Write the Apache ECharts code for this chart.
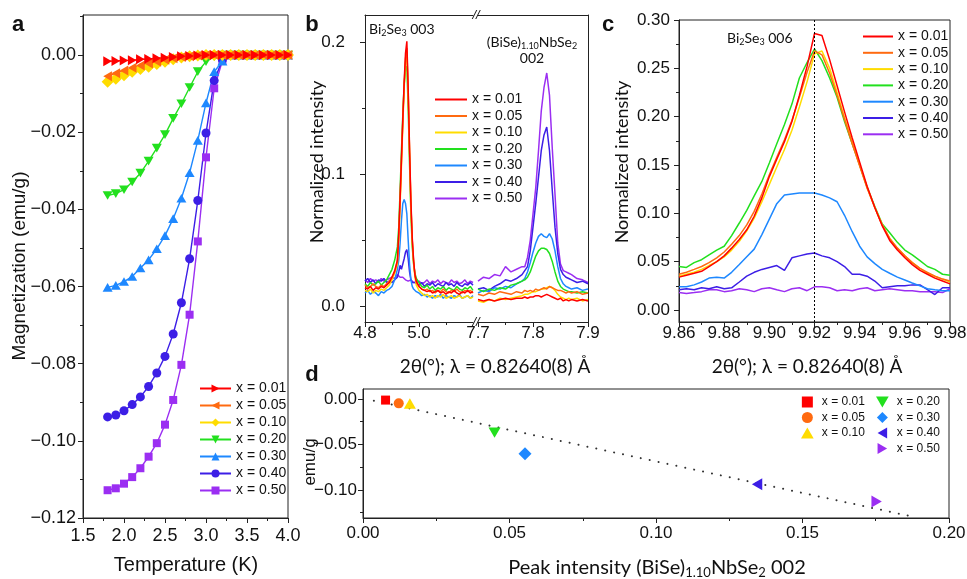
<!DOCTYPE html>
<html>
<head>
<meta charset="utf-8">
<title>Magnetization and diffraction of (BiSe)1.10NbSe2 / Bi2Se3</title>
<script src="https://cdn.jsdelivr.net/npm/echarts@6/dist/echarts.min.js"></script>
<style>
  html, body { margin: 0; padding: 0; background: #fff; }
  #chart { width: 967px; height: 579px; }
</style>
</head>
<body>
<div id="chart"></div>
<script>
// Samples (same order in every panel)
var samples = ['x = 0.01', 'x = 0.05', 'x = 0.10', 'x = 0.20', 'x = 0.30', 'x = 0.40', 'x = 0.50'];
var colors = ['#ff0000', '#ff6a10', '#ffdc00', '#22e01e', '#1e88ff', '#3c1ee6', '#9b2ef2'];

// Panel a: magnetization (emu/g) vs temperature (K)
var tempK = [1.8, 1.9, 2.0, 2.1, 2.2, 2.3, 2.4, 2.5, 2.6, 2.7, 2.8, 2.9, 3.0, 3.1, 3.2, 3.3, 3.4, 3.5, 3.6, 3.7, 3.8, 3.9, 4.0];
var mag001 = [-0.0016, -0.0015, -0.0014, -0.0013, -0.0011, -0.0010, -0.0008, -0.0007, -0.0005, -0.0003, -0.0002, -0.0001, 0, 0, 0, 0, 0, 0, 0, 0, 0, 0, 0];
var mag005 = [-0.0055, -0.0047, -0.0040, -0.0033, -0.0027, -0.0022, -0.0017, -0.0012, -0.0008, -0.0005, -0.0003, -0.0001, 0, 0, 0, 0, 0, 0, 0, 0, 0, 0, 0];
var mag010 = [-0.0069, -0.0061, -0.0052, -0.0043, -0.0036, -0.0030, -0.0023, -0.0017, -0.0011, -0.0006, -0.0003, -0.0001, 0, 0, 0, 0, 0, 0, 0, 0, 0, 0, 0];
var mag020 = [-0.0364, -0.0359, -0.0349, -0.0329, -0.0306, -0.0275, -0.0241, -0.0206, -0.0164, -0.0126, -0.0084, -0.0043, -0.0017, -0.0004, 0, 0, 0, 0, 0, 0, 0, 0, 0];
var mag030 = [-0.0602, -0.0597, -0.0587, -0.0574, -0.0552, -0.0531, -0.0502, -0.0468, -0.0424, -0.0371, -0.0305, -0.0221, -0.0124, -0.0043, -0.0016, 0, 0, 0, 0, 0, 0, 0, 0];
var mag040 = [-0.0938, -0.0933, -0.0922, -0.0906, -0.0886, -0.0859, -0.0824, -0.0781, -0.0723, -0.0642, -0.0528, -0.0377, -0.0202, -0.0066, -0.0012, 0, 0, 0, 0, 0, 0, 0, 0];
var mag050 = [-0.1128, -0.1123, -0.1111, -0.1094, -0.1071, -0.1041, -0.1006, -0.0958, -0.0894, -0.0803, -0.0673, -0.0483, -0.0265, -0.0086, -0.0015, 0, 0, 0, 0, 0, 0, 0, 0];
var magSeries = [mag001, mag005, mag010, mag020, mag030, mag040, mag050];

// Panel b: normalized intensity, low-angle part (Bi2Se3 003)
var twoThetaLow = [4.80, 4.81, 4.82, 4.83, 4.84, 4.85, 4.86, 4.87, 4.88, 4.89, 4.90, 4.91, 4.92,
  4.925, 4.93, 4.935, 4.94, 4.945, 4.95, 4.955, 4.96, 4.965, 4.97, 4.975, 4.98, 4.985, 4.99,
  5.00, 5.01, 5.02, 5.03, 5.04, 5.05, 5.06, 5.07, 5.08, 5.09, 5.10, 5.11, 5.12, 5.13, 5.14, 5.15, 5.16, 5.17, 5.18, 5.19, 5.20];
var low001 = [0.014, 0.013, 0.015, 0.012, 0.014, 0.013, 0.015, 0.014, 0.016, 0.018, 0.022, 0.027, 0.035,
  0.055, 0.082, 0.112, 0.142, 0.170, 0.192, 0.201, 0.165, 0.120, 0.080, 0.052, 0.035, 0.024, 0.019,
  0.015, 0.013, 0.012, 0.011, 0.012, 0.010, 0.011, 0.012, 0.010, 0.011, 0.009, 0.011, 0.010, 0.012, 0.010, 0.009, 0.011, 0.010, 0.012, 0.010, 0.011];
var low005 = [0.016, 0.014, 0.015, 0.017, 0.015, 0.014, 0.016, 0.015, 0.017, 0.019, 0.022, 0.026, 0.034,
  0.053, 0.080, 0.110, 0.140, 0.168, 0.188, 0.196, 0.162, 0.118, 0.078, 0.050, 0.034, 0.023, 0.018,
  0.015, 0.013, 0.012, 0.013, 0.011, 0.012, 0.010, 0.012, 0.011, 0.013, 0.011, 0.010, 0.012, 0.011, 0.013, 0.011, 0.010, 0.012, 0.011, 0.012, 0.010];
var low010 = [0.012, 0.011, 0.013, 0.010, 0.012, 0.011, 0.013, 0.012, 0.014, 0.016, 0.020, 0.025, 0.032,
  0.050, 0.077, 0.106, 0.137, 0.165, 0.185, 0.193, 0.160, 0.116, 0.076, 0.049, 0.033, 0.022, 0.016,
  0.012, 0.010, 0.008, 0.009, 0.007, 0.008, 0.006, 0.008, 0.007, 0.009, 0.006, 0.007, 0.008, 0.006, 0.007, 0.008, 0.006, 0.007, 0.008, 0.006, 0.007];
var low020 = [0.017, 0.015, 0.018, 0.016, 0.017, 0.019, 0.016, 0.018, 0.020, 0.024, 0.028, 0.035, 0.045,
  0.060, 0.088, 0.118, 0.145, 0.168, 0.180, 0.182, 0.150, 0.108, 0.070, 0.045, 0.032, 0.025, 0.021,
  0.018, 0.015, 0.014, 0.016, 0.013, 0.015, 0.012, 0.014, 0.013, 0.015, 0.012, 0.014, 0.013, 0.012, 0.015, 0.013, 0.012, 0.014, 0.013, 0.015, 0.012];
var low030 = [0.010, 0.012, 0.009, 0.011, 0.010, 0.008, 0.011, 0.010, 0.012, 0.013, 0.015, 0.020, 0.028,
  0.035, 0.048, 0.065, 0.078, 0.081, 0.078, 0.070, 0.050, 0.032, 0.020, 0.015, 0.013, 0.012, 0.011,
  0.010, 0.008, 0.009, 0.007, 0.008, 0.006, 0.008, 0.007, 0.009, 0.006, 0.008, 0.007, 0.006, 0.008, 0.007, 0.009, 0.006, 0.007, 0.008, 0.006, 0.008];
var low040 = [0.019, 0.021, 0.018, 0.020, 0.017, 0.020, 0.019, 0.021, 0.018, 0.019, 0.018, 0.020, 0.022,
  0.026, 0.031, 0.028, 0.032, 0.036, 0.041, 0.043, 0.036, 0.026, 0.020, 0.018, 0.017, 0.018, 0.017,
  0.016, 0.018, 0.015, 0.017, 0.016, 0.018, 0.015, 0.017, 0.016, 0.015, 0.018, 0.016, 0.017, 0.015, 0.018, 0.016, 0.015, 0.017, 0.016, 0.018, 0.016];
var low050 = [0.020, 0.018, 0.021, 0.019, 0.020, 0.018, 0.021, 0.019, 0.020, 0.021, 0.022, 0.021, 0.024,
  0.023, 0.022, 0.021, 0.022, 0.021, 0.020, 0.021, 0.019, 0.018, 0.020, 0.019, 0.018, 0.019, 0.018,
  0.019, 0.017, 0.018, 0.020, 0.017, 0.019, 0.018, 0.020, 0.017, 0.019, 0.018, 0.017, 0.020, 0.018, 0.019, 0.017, 0.018, 0.020, 0.017, 0.019, 0.018];
var lowSeries = [low001, low005, low010, low020, low030, low040, low050];

// Panel b: high-angle part ((BiSe)1.10NbSe2 002)
var twoThetaHigh = [7.70, 7.71, 7.72, 7.73, 7.74, 7.75, 7.76, 7.77, 7.78,
  7.785, 7.79, 7.795, 7.80, 7.805, 7.81, 7.815, 7.82, 7.825, 7.83, 7.835, 7.84, 7.845, 7.85, 7.855, 7.86, 7.865,
  7.87, 7.88, 7.89, 7.90];
var high001 = [0.005, 0.004, 0.005, 0.004, 0.005, 0.006, 0.005, 0.006, 0.006,
  0.007, 0.006, 0.007, 0.007, 0.008, 0.008, 0.007, 0.008, 0.009, 0.008, 0.007, 0.006, 0.005, 0.006, 0.004, 0.005, 0.004,
  0.005, 0.004, 0.005, 0.004];
var high005 = [0.009, 0.008, 0.010, 0.009, 0.011, 0.010, 0.009, 0.011, 0.010,
  0.012, 0.011, 0.012, 0.011, 0.013, 0.012, 0.013, 0.014, 0.013, 0.015, 0.014, 0.013, 0.012, 0.012, 0.011, 0.010, 0.011,
  0.010, 0.011, 0.009, 0.010];
var high010 = [0.004, 0.003, 0.005, 0.004, 0.006, 0.005, 0.006, 0.007, 0.008,
  0.009, 0.009, 0.010, 0.011, 0.011, 0.012, 0.013, 0.013, 0.014, 0.015, 0.014, 0.012, 0.009, 0.007, 0.006, 0.005, 0.006,
  0.005, 0.006, 0.004, 0.005];
var high020 = [0.013, 0.011, 0.013, 0.012, 0.014, 0.013, 0.016, 0.017, 0.019,
  0.020, 0.022, 0.026, 0.032, 0.038, 0.042, 0.044, 0.044, 0.043, 0.040, 0.034, 0.026, 0.019, 0.015, 0.013, 0.012, 0.011,
  0.011, 0.010, 0.011, 0.010];
var high030 = [0.010, 0.012, 0.011, 0.014, 0.013, 0.015, 0.014, 0.017, 0.019,
  0.021, 0.026, 0.033, 0.041, 0.048, 0.053, 0.055, 0.053, 0.052, 0.055, 0.051, 0.042, 0.030, 0.021, 0.017, 0.015, 0.014,
  0.013, 0.014, 0.012, 0.013];
var high040 = [0.013, 0.014, 0.012, 0.015, 0.017, 0.020, 0.019, 0.021, 0.024,
  0.027, 0.030, 0.042, 0.060, 0.078, 0.098, 0.118, 0.130, 0.136, 0.118, 0.088, 0.060, 0.040, 0.028, 0.024, 0.022, 0.021,
  0.020, 0.018, 0.019, 0.017];
var high050 = [0.019, 0.022, 0.021, 0.024, 0.023, 0.030, 0.026, 0.028, 0.030,
  0.030, 0.037, 0.050, 0.070, 0.090, 0.118, 0.148, 0.166, 0.177, 0.160, 0.120, 0.085, 0.048, 0.032, 0.027, 0.026, 0.025,
  0.024, 0.021, 0.020, 0.018];
var highSeries = [high001, high005, high010, high020, high030, high040, high050];

// Panel c: Bi2Se3 006 peak
var twoThetaC = [9.8600, 9.8633, 9.8667, 9.8700, 9.8733, 9.8767, 9.8800, 9.8833, 9.8867, 9.8900, 9.8933, 9.8967,
  9.9000, 9.9033, 9.9067, 9.9100, 9.9133, 9.9167, 9.9200, 9.9233, 9.9267, 9.9300, 9.9333, 9.9367, 9.9400,
  9.9433, 9.9467, 9.9500, 9.9533, 9.9567, 9.9600, 9.9633, 9.9667, 9.9700, 9.9733, 9.9767, 9.9800];
var c001 = [0.034, 0.036, 0.038, 0.040, 0.045, 0.050, 0.056, 0.064, 0.073, 0.083, 0.097, 0.116, 0.138, 0.156, 0.174, 0.195, 0.222, 0.252,
  0.286, 0.284, 0.259, 0.232, 0.205, 0.178, 0.153, 0.128, 0.106, 0.087, 0.072, 0.062, 0.054, 0.047, 0.041, 0.037, 0.033, 0.030, 0.027];
var c005 = [0.037, 0.039, 0.042, 0.045, 0.049, 0.054, 0.060, 0.068, 0.077, 0.088, 0.102, 0.120, 0.140, 0.158, 0.176, 0.196, 0.220, 0.246,
  0.268, 0.264, 0.245, 0.222, 0.197, 0.172, 0.149, 0.126, 0.106, 0.088, 0.074, 0.064, 0.056, 0.049, 0.043, 0.039, 0.035, 0.032, 0.030];
var c010 = [0.035, 0.037, 0.039, 0.042, 0.046, 0.050, 0.055, 0.062, 0.071, 0.082, 0.095, 0.112, 0.130, 0.148, 0.166, 0.186, 0.210, 0.236,
  0.265, 0.268, 0.250, 0.225, 0.199, 0.174, 0.150, 0.127, 0.106, 0.088, 0.074, 0.064, 0.056, 0.049, 0.043, 0.038, 0.035, 0.032, 0.029];
var c020 = [0.045, 0.044, 0.049, 0.052, 0.057, 0.062, 0.066, 0.077, 0.090, 0.103, 0.118, 0.133, 0.152, 0.172, 0.192, 0.213, 0.240, 0.256,
  0.270, 0.258, 0.240, 0.220, 0.195, 0.172, 0.150, 0.127, 0.107, 0.089, 0.080, 0.070, 0.062, 0.057, 0.051, 0.045, 0.042, 0.037, 0.036];
var c030 = [0.024, 0.024, 0.026, 0.029, 0.033, 0.034, 0.033, 0.039, 0.047, 0.055, 0.063, 0.078, 0.094, 0.110, 0.119, 0.120, 0.121, 0.121,
  0.121, 0.119, 0.116, 0.112, 0.098, 0.081, 0.066, 0.055, 0.048, 0.042, 0.038, 0.034, 0.031, 0.028, 0.025, 0.022, 0.021, 0.020, 0.020];
var c040 = [0.021, 0.022, 0.021, 0.023, 0.022, 0.024, 0.022, 0.023, 0.029, 0.035, 0.039, 0.042, 0.044, 0.046, 0.041, 0.054, 0.056, 0.058,
  0.059, 0.056, 0.054, 0.050, 0.045, 0.037, 0.037, 0.035, 0.030, 0.023, 0.024, 0.025, 0.025, 0.026, 0.026, 0.021, 0.016, 0.023, 0.023];
var c050 = [0.018, 0.017, 0.018, 0.019, 0.021, 0.021, 0.019, 0.020, 0.022, 0.021, 0.019, 0.022, 0.023, 0.021, 0.019, 0.022, 0.023, 0.020,
  0.024, 0.024, 0.023, 0.020, 0.021, 0.020, 0.022, 0.023, 0.020, 0.021, 0.022, 0.021, 0.020, 0.020, 0.019, 0.019, 0.019, 0.018, 0.022];
var cSeries = [c001, c005, c010, c020, c030, c040, c050];
var peakLine = 9.92;

// Panel d: magnetization at 1.8 K vs (BiSe)1.10NbSe2 002 peak intensity
var peakInt = [0.0077, 0.0122, 0.0160, 0.0449, 0.0553, 0.1345, 0.1753];
var emuG = [-0.0012, -0.0048, -0.0050, -0.0370, -0.0603, -0.0938, -0.1129];
var fitX = [0.0037, 0.1886];
var fitY = [-0.0019, -0.1302];

// Tick values
var ticksAx = [1.5, 2.0, 2.5, 3.0, 3.5, 4.0];
var minorAx = [1.75, 2.25, 2.75, 3.25, 3.75];
var ticksAy = [-0.12, -0.10, -0.08, -0.06, -0.04, -0.02, 0.00];
var minorAy = [-0.11, -0.09, -0.07, -0.05, -0.03, -0.01, 0.01];
var ticksBx1 = [4.8, 5.0];
var minorBx1 = [4.9, 5.1];
var ticksBx2 = [7.7, 7.8, 7.9];
var minorBx2 = [7.75, 7.85];
var ticksBy = [0.0, 0.1, 0.2];
var minorBy = [0.05, 0.15];
var ticksCx = [9.86, 9.88, 9.90, 9.92, 9.94, 9.96, 9.98];
var minorCx = [9.87, 9.89, 9.91, 9.93, 9.95, 9.97];
var ticksCy = [0.00, 0.05, 0.10, 0.15, 0.20, 0.25, 0.30];
var minorCy = [0.025, 0.075, 0.125, 0.175, 0.225, 0.275];
var ticksDx = [0.00, 0.05, 0.10, 0.15, 0.20];
var minorDx = [0.025, 0.075, 0.125, 0.175];
var ticksDy = [-0.10, -0.05, 0.00];
var minorDy = [-0.125, -0.075, -0.025];

var SYM_RIGHT = 'path://M0,0L1.732,1L0,2Z';
var SYM_LEFT = 'path://M1.732,0L1.732,2L0,1Z';
var SYM_DOWN = 'path://M0,0L2,0L1,1.732Z';
var SYM_UP = 'path://M1,0L2,1.732L0,1.732Z';
var SYM_DIAMOND = 'path://M1,0L2,1L1,2L0,1Z';
var SYM_SQUARE = 'path://M0,0L1,0L1,1L0,1Z';
var symbolsA = [SYM_RIGHT, SYM_LEFT, SYM_DIAMOND, SYM_DOWN, SYM_UP, 'circle', SYM_SQUARE];
var sizesA = [10, 10, 12, 10, 10, 9, 8];
var symbolsD = [SYM_SQUARE, 'circle', SYM_UP, SYM_DOWN, SYM_DIAMOND, SYM_LEFT, SYM_RIGHT];
var sizesD = [9, 10, 12, 12, 13, 12, 12];

var AXIS = '#222';
var TICK_FONT = 'Liberation Sans';
var TITLE_FONT = 'Lato';

function zip(xs, ys) {
  return xs.map(function (x, i) { return [x, ys[i]]; });
}

// Use a real minus sign like the original figure
function fmtNum(v, dec) {
  var s = Math.abs(v).toFixed(dec);
  return v < -1e-12 ? '\u2212' + s : s;
}

// One axis carrying line, major ticks and labels, a twin carrying the minor ticks
function addAxisPair(list, o) {
  var common = { type: 'value', gridIndex: o.grid, position: o.pos, min: o.min, max: o.max, splitLine: { show: false } };
  list.push(Object.assign({}, common, {
    axisLine: { show: true, onZero: false, lineStyle: { color: AXIS, width: 1 } },
    axisTick: { show: true, length: 5, customValues: o.majors, lineStyle: { color: AXIS } },
    axisLabel: {
      show: true, customValues: o.majors, margin: o.margin, color: '#111',
      fontFamily: TICK_FONT, fontSize: o.fontSize || 17,
      formatter: function (v) { return fmtNum(v, o.dec); }
    }
  }));
  list.push(Object.assign({}, common, {
    axisLine: { show: false, onZero: false },
    axisTick: { show: true, length: 3, customValues: o.minors, lineStyle: { color: AXIS } },
    axisLabel: { show: false }
  }));
  return list.length - 2;
}

function addLineAxis(list, o) {
  list.push({
    type: 'value', gridIndex: o.grid, position: o.pos, min: o.min, max: o.max,
    splitLine: { show: false },
    axisLine: { show: true, onZero: false, lineStyle: { color: AXIS, width: 1 } },
    axisTick: { show: false }, axisLabel: { show: false }
  });
  return list.length - 1;
}

var grids = [
  { left: 83, top: 15, width: 205, height: 503, show: true, borderColor: AXIS, borderWidth: 1, outerBoundsMode: 'none' },
  { left: 365, top: 15, width: 108, height: 307, outerBoundsMode: 'none' },
  { left: 478, top: 15, width: 110, height: 307, outerBoundsMode: 'none' },
  { left: 679, top: 20, width: 271, height: 302, show: true, borderColor: AXIS, borderWidth: 1, outerBoundsMode: 'none' },
  { left: 363, top: 389, width: 586, height: 129, show: true, borderColor: AXIS, borderWidth: 1, outerBoundsMode: 'none' }
];

var xAxes = [];
var yAxes = [];

var ax = addAxisPair(xAxes, { grid: 0, pos: 'bottom', min: 1.5, max: 4.0, majors: ticksAx, minors: minorAx, dec: 1, margin: 9, fontSize: 18 });
var ay = addAxisPair(yAxes, { grid: 0, pos: 'left', min: -0.12, max: 0.0104, majors: ticksAy, minors: minorAy, dec: 2, margin: 7, fontSize: 18 });

var bx1 = addAxisPair(xAxes, { grid: 1, pos: 'bottom', min: 4.8, max: 5.2, majors: ticksBx1, minors: minorBx1, dec: 1, margin: 3 });
addLineAxis(xAxes, { grid: 1, pos: 'top', min: 4.8, max: 5.2 });
var by1 = addAxisPair(yAxes, { grid: 1, pos: 'left', min: -0.012, max: 0.221, majors: ticksBy, minors: minorBy, dec: 1, margin: 20 });
var bx2 = addAxisPair(xAxes, { grid: 2, pos: 'bottom', min: 7.7, max: 7.9, majors: ticksBx2, minors: minorBx2, dec: 1, margin: 3 });
addLineAxis(xAxes, { grid: 2, pos: 'top', min: 7.7, max: 7.9 });
var by2 = addLineAxis(yAxes, { grid: 2, pos: 'right', min: -0.012, max: 0.221 });

var cx = addAxisPair(xAxes, { grid: 3, pos: 'bottom', min: 9.86, max: 9.98, majors: ticksCx, minors: minorCx, dec: 2, margin: 3 });
var cy = addAxisPair(yAxes, { grid: 3, pos: 'left', min: -0.0124, max: 0.30, majors: ticksCy, minors: minorCy, dec: 2, margin: 9 });

var dx = addAxisPair(xAxes, { grid: 4, pos: 'bottom', min: 0, max: 0.20, majors: ticksDx, minors: minorDx, dec: 2, margin: 7 });
var dy = addAxisPair(yAxes, { grid: 4, pos: 'left', min: -0.131, max: 0.011, majors: ticksDy, minors: minorDy, dec: 2, margin: 6 });

var series = [];

// Draw x = 0.50 first so x = 0.01 ends up on top, as in the figure
for (var i = samples.length - 1; i >= 0; i--) {
  series.push({
    type: 'line', name: 'a:' + samples[i], xAxisIndex: ax, yAxisIndex: ay,
    data: zip(tempK, magSeries[i]),
    symbol: symbolsA[i], symbolSize: sizesA[i], symbolKeepAspect: true,
    lineStyle: { color: colors[i], width: 1.4 }, itemStyle: { color: colors[i] }
  });
}
for (var i = samples.length - 1; i >= 0; i--) {
  series.push({
    type: 'line', name: 'b:' + samples[i], xAxisIndex: bx1, yAxisIndex: by1,
    data: zip(twoThetaLow, lowSeries[i]), symbol: 'none',
    lineStyle: { color: colors[i], width: 1.5 }, itemStyle: { color: colors[i] }
  });
  series.push({
    type: 'line', name: 'b:' + samples[i], xAxisIndex: bx2, yAxisIndex: by2,
    data: zip(twoThetaHigh, highSeries[i]), symbol: 'none',
    lineStyle: { color: colors[i], width: 1.5 }, itemStyle: { color: colors[i] }
  });
}
for (var i = samples.length - 1; i >= 0; i--) {
  series.push({
    type: 'line', name: 'c:' + samples[i], xAxisIndex: cx, yAxisIndex: cy,
    data: zip(twoThetaC, cSeries[i]), symbol: 'none',
    lineStyle: { color: colors[i], width: 1.5 }, itemStyle: { color: colors[i] }
  });
}
// Dotted line at the peak position in c
series.push({
  type: 'line', name: 'peakline', xAxisIndex: cx, yAxisIndex: cy, data: [], symbol: 'none',
  markLine: {
    silent: true, symbol: 'none', label: { show: false },
    lineStyle: { color: '#000', width: 1, type: [2, 2] },
    data: [{ xAxis: peakLine }]
  }
});

// d: linear trend, then one scatter point per sample
series.push({
  type: 'line', name: 'fit', xAxisIndex: dx, yAxisIndex: dy, data: zip(fitX, fitY), symbol: 'none',
  lineStyle: { color: '#333', width: 2, type: [0.1, 9], cap: 'round' }, z: 1
});
for (var i = 0; i < samples.length; i++) {
  series.push({
    type: 'scatter', name: 'd:' + samples[i], xAxisIndex: dx, yAxisIndex: dy,
    data: [[peakInt[i], emuG[i]]],
    symbol: symbolsD[i], symbolSize: sizesD[i], symbolKeepAspect: true,
    itemStyle: { color: colors[i], opacity: 1 }, z: 3
  });
}

function stripPrefix(name) { return name.slice(2); }
function names(prefix, list) { return list.map(function (s) { return prefix + s; }); }

var legendText = { fontFamily: TICK_FONT, fontSize: 14, lineHeight: 15, color: '#111' };
var legendTextD = { fontFamily: TICK_FONT, fontSize: 12, lineHeight: 11, color: '#111' };
var legends = [
  { data: names('a:', samples), orient: 'vertical', left: 199, top: 381, padding: 0, itemWidth: 31, itemHeight: 10, itemGap: 2,
    textStyle: legendText, formatter: stripPrefix, selectedMode: false },
  // b and c: plain line swatches
  { data: names('b:', samples), orient: 'vertical', left: 435, top: 92, padding: 0, itemWidth: 32, itemHeight: 2, itemGap: 1.5,
    icon: 'rect', textStyle: legendText, formatter: stripPrefix, selectedMode: false },
  { data: names('c:', samples), orient: 'vertical', left: 863, top: 29, padding: 0, itemWidth: 30, itemHeight: 2, itemGap: 1.3,
    icon: 'rect', textStyle: legendText, formatter: stripPrefix, selectedMode: false },
  { data: names('d:', samples.slice(0, 3)), orient: 'vertical', left: 801, top: 396, padding: 0, itemWidth: 19, itemHeight: 11, itemGap: 3.5,
    textStyle: legendTextD, formatter: stripPrefix, selectedMode: false },
  { data: names('d:', samples.slice(3)), orient: 'vertical', left: 876, top: 396, padding: 0, itemWidth: 19, itemHeight: 11, itemGap: 3.5,
    textStyle: legendTextD, formatter: stripPrefix, selectedMode: false }
];

// Text with subscripts
var subRich = {
  n: { fontFamily: TITLE_FONT, fontSize: 14, lineHeight: 16, color: '#111' },
  s: { fontFamily: TITLE_FONT, fontSize: 9, lineHeight: 10, padding: [8, 0, 0, 0], color: '#111' }
};
var subRichBig = {
  n: { fontFamily: TITLE_FONT, fontSize: 20, lineHeight: 22, color: '#111' },
  s: { fontFamily: TITLE_FONT, fontSize: 13, lineHeight: 14, padding: [10, 0, 0, 0], color: '#111' }
};

function label(x, y, text, opts) {
  opts = opts || {};
  return {
    type: 'text', x: x, y: y, rotation: opts.rotate ? Math.PI / 2 : 0, silent: true, z: 10,
    style: {
      text: text, x: 0, y: 0,
      align: opts.align || 'center', verticalAlign: 'middle',
      font: opts.font, rich: opts.rich, fill: '#111'
    }
  };
}

var graphics = [
  label(18, 25, 'a', { font: 'bold 22px Liberation Sans' }),
  label(312, 25, 'b', { font: 'bold 22px Liberation Sans' }),
  label(608, 25, 'c', { font: 'bold 22px Liberation Sans' }),
  label(312, 375, 'd', { font: 'bold 22px Liberation Sans' }),
  label(20, 266, 'Magnetization (emu/g)', { font: '19px Liberation Sans', rotate: true }),
  label(186, 565, 'Temperature (K)', { font: '20px Liberation Sans' }),
  label(317, 162, 'Normalized intensity', { font: '18px Lato', rotate: true }),
  label(622, 162, 'Normalized intensity', { font: '18px Lato', rotate: true }),
  label(495, 367, '2θ(°); λ = 0.82640(8) Å', { font: '19px Lato' }),
  label(807, 367, '2θ(°); λ = 0.82640(8) Å', { font: '19px Lato' }),
  label(310, 462, 'emu/g', { font: '17px Liberation Sans', rotate: true }),
  label(657, 568, '{n|Peak intensity (BiSe)}{s|1.10}{n|NbSe}{s|2}{n| 002}', { rich: subRichBig }),
  label(369, 29, '{n|Bi}{s|2}{n|Se}{s|3}{n| 003}', { rich: subRich, align: 'left' }),
  label(532, 42, '{n|(BiSe)}{s|1.10}{n|NbSe}{s|2}', { rich: subRich }),
  label(532, 58, '002', { font: '14px Lato' }),
  label(727, 38, '{n|Bi}{s|2}{n|Se}{s|3}{n| 006}', { rich: subRich, align: 'left' }),
  // axis break marks in b
  label(476, 15, '//', { font: 'italic 13px Liberation Sans' }),
  label(476, 322, '//', { font: 'italic 13px Liberation Sans' })
];

var myChart = echarts.init(document.getElementById('chart'), null, { renderer: 'canvas' });
myChart.setOption({
  animation: false,
  backgroundColor: '#fff',
  grid: grids,
  xAxis: xAxes,
  yAxis: yAxes,
  legend: legends,
  series: series,
  graphic: graphics
});
</script>
</body>
</html>
